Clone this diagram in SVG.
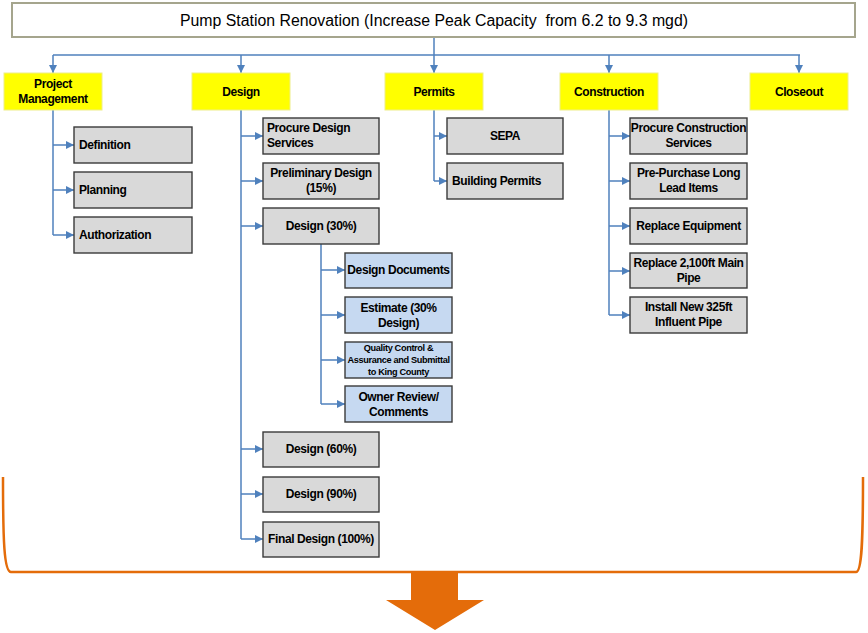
<svg xmlns="http://www.w3.org/2000/svg" width="868" height="633" viewBox="0 0 868 633">
<defs>
<style>
.t{font-family:"Liberation Sans",Arial,sans-serif;font-weight:bold;font-size:12px;letter-spacing:-0.4px;fill:#000}
.c{text-anchor:middle}
.y{fill:#ffff00;stroke:#eeee88;stroke-width:1}
.g{fill:#d9d9d9;stroke:#3a3a3a;stroke-width:1.4}
.b{fill:#c6d9f1;stroke:#3a3a3a;stroke-width:1.4}
.ln{fill:none;stroke:#4f81bd;stroke-width:1.5}
.ar{fill:none;stroke:#4f81bd;stroke-width:1.5;marker-end:url(#ah)}
.s{font-size:9.2px;letter-spacing:-0.35px}
</style>
<marker id="ah" viewBox="0 0 8 8" refX="8" refY="4" markerWidth="8" markerHeight="8" markerUnits="userSpaceOnUse" orient="auto">
<path d="M0,0 L8,4 L0,8 z" fill="#4f81bd"/>
</marker>
</defs>
<rect width="868" height="633" fill="#fff"/>

<g id="connectors">
<path class="ar" d="M434,37 V73"/>
<path class="ln" d="M53,55 H800"/>
<path class="ar" d="M53,55 V73"/>
<path class="ar" d="M241,55 V73"/>
<path class="ar" d="M609,55 V73"/>
<path class="ar" d="M799,55 V73"/>
<path class="ln" d="M53,110 V235"/>
<path class="ar" d="M53,145 H74"/>
<path class="ar" d="M53,190 H74"/>
<path class="ar" d="M53,235 H74"/>
<path class="ln" d="M241,110 V539"/>
<path class="ar" d="M241,136 H263"/>
<path class="ar" d="M241,181 H263"/>
<path class="ar" d="M241,226 H263"/>
<path class="ar" d="M241,449 H263"/>
<path class="ar" d="M241,494 H263"/>
<path class="ar" d="M241,539 H263"/>
<path class="ln" d="M321,244 V404"/>
<path class="ar" d="M321,270 H345"/>
<path class="ar" d="M321,315 H345"/>
<path class="ar" d="M321,360 H345"/>
<path class="ar" d="M321,404 H345"/>
<path class="ln" d="M434,110 V181"/>
<path class="ar" d="M434,136 H447"/>
<path class="ar" d="M434,181 H447"/>
<path class="ln" d="M609,110 V315"/>
<path class="ar" d="M609,136 H630"/>
<path class="ar" d="M609,181 H630"/>
<path class="ar" d="M609,226 H630"/>
<path class="ar" d="M609,271 H630"/>
<path class="ar" d="M609,315 H630"/>
</g>

<g id="root">
<rect x="12" y="3" width="843" height="34" fill="#fff" stroke="#a5a58d" stroke-width="2"/>
<text x="434" y="26" xml:space="preserve" textLength="508" lengthAdjust="spacingAndGlyphs" style="font-family:'Liberation Sans',Arial,sans-serif;font-size:16px;text-anchor:middle">Pump Station Renovation (Increase Peak Capacity  from 6.2 to 9.3 mgd)</text>
</g>

<g id="project-management"><rect class="y" x="4" y="73" width="98" height="37"/><text class="t c" x="53" y="88">Project</text><text class="t c" x="53" y="103">Management</text></g>
<g id="design"><rect class="y" x="192" y="73" width="98" height="37"/><text class="t c" x="241" y="96">Design</text></g>
<g id="permits"><rect class="y" x="385" y="73" width="98" height="37"/><text class="t c" x="434" y="96">Permits</text></g>
<g id="construction"><rect class="y" x="560" y="73" width="98" height="37"/><text class="t c" x="609" y="96">Construction</text></g>
<g id="closeout"><rect class="y" x="750" y="73" width="98" height="37"/><text class="t c" x="799" y="96">Closeout</text></g>

<g id="definition"><rect class="g" x="74" y="127" width="118" height="36"/><text class="t" x="79" y="149">Definition</text></g>
<g id="planning"><rect class="g" x="74" y="172" width="118" height="36"/><text class="t" x="79" y="194">Planning</text></g>
<g id="authorization"><rect class="g" x="74" y="217" width="118" height="36"/><text class="t" x="79" y="239">Authorization</text></g>

<g id="procure-design"><rect class="g" x="263" y="118" width="116" height="36"/><text class="t" x="267" y="132">Procure Design</text><text class="t" x="267" y="147">Services</text></g>
<g id="preliminary-design"><rect class="g" x="263" y="163" width="116" height="36"/><text class="t c" x="321" y="177">Preliminary Design</text><text class="t c" x="321" y="192">(15%)</text></g>
<g id="design-30"><rect class="g" x="263" y="208" width="116" height="36"/><text class="t c" x="321" y="230">Design (30%)</text></g>

<g id="design-documents"><rect class="b" x="345" y="253" width="107" height="35"/><text class="t c" x="398.5" y="274">Design Documents</text></g>
<g id="estimate"><rect class="b" x="345" y="297" width="107" height="36"/><text class="t c" x="398.5" y="312">Estimate (30%</text><text class="t c" x="398.5" y="327">Design)</text></g>
<g id="quality-control"><rect class="b" x="345" y="342" width="107" height="36"/><text class="t c s" x="398.5" y="351">Quality Control &amp;</text><text class="t c s" x="398.5" y="363">Assurance and Submittal</text><text class="t c s" x="398.5" y="375">to King County</text></g>
<g id="owner-review"><rect class="b" x="345" y="386" width="107" height="36"/><text class="t c" x="398.5" y="401">Owner Review/</text><text class="t c" x="398.5" y="416">Comments</text></g>

<g id="design-60"><rect class="g" x="263" y="432" width="116" height="35"/><text class="t c" x="321" y="453">Design (60%)</text></g>
<g id="design-90"><rect class="g" x="263" y="477" width="116" height="35"/><text class="t c" x="321" y="498">Design (90%)</text></g>
<g id="final-design"><rect class="g" x="263" y="522" width="116" height="35"/><text class="t c" x="321" y="543">Final Design (100%)</text></g>

<g id="sepa"><rect class="g" x="447" y="118" width="116" height="36"/><text class="t c" x="505" y="140">SEPA</text></g>
<g id="building-permits"><rect class="g" x="447" y="163" width="116" height="36"/><text class="t" x="452" y="185">Building Permits</text></g>

<g id="procure-construction"><rect class="g" x="630" y="118" width="117" height="36"/><text class="t c" x="688.5" y="132">Procure Construction</text><text class="t c" x="688.5" y="147">Services</text></g>
<g id="pre-purchase"><rect class="g" x="630" y="163" width="117" height="36"/><text class="t c" x="688.5" y="177">Pre-Purchase Long</text><text class="t c" x="688.5" y="192">Lead Items</text></g>
<g id="replace-equipment"><rect class="g" x="630" y="208" width="117" height="36"/><text class="t c" x="688.5" y="230">Replace Equipment</text></g>
<g id="replace-main"><rect class="g" x="630" y="253" width="117" height="35"/><text class="t c" x="688.5" y="267">Replace 2,100ft Main</text><text class="t c" x="688.5" y="282">Pipe</text></g>
<g id="install-influent"><rect class="g" x="630" y="297" width="117" height="36"/><text class="t c" x="688.5" y="311">Install New 325ft</text><text class="t c" x="688.5" y="326">Influent Pipe</text></g>

<g id="brace">
<path d="M3,477 C3,540 4,572 11,572 L856,572 C862,572 863,540 863,477" fill="none" stroke="#e46c0a" stroke-width="2.5"/>
<polygon points="411,573 458,573 458,600 484,600 435,630 386,600 411,600" fill="#e46c0a"/>
</g>
</svg>
